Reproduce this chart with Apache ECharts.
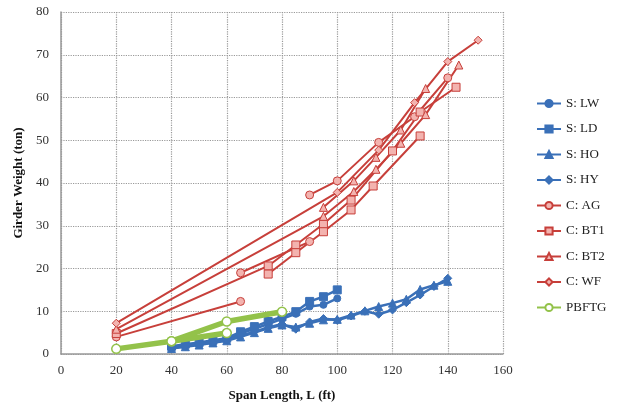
<!DOCTYPE html>
<html>
<head>
<meta charset="utf-8">
<script src="https://cdn.jsdelivr.net/npm/echarts@6/dist/echarts.min.js"></script>
<style>
html, body { margin: 0; padding: 0; background: #fff; }
#chart { width: 624px; height: 412px; }
</style>
</head>
<body>
<div id="chart"></div>
<script>
// steel girders: span (ft) and weight (ton)
var spanShort = [40, 45, 50, 55, 60, 65, 70, 75, 80, 85, 90, 95, 100];
var spanLong = [40, 45, 50, 55, 60, 65, 70, 75, 80, 85, 90, 95, 100, 105, 110, 115, 120, 125, 130, 135, 140];
var lwWeight = [1.5, 2.0, 2.4, 2.9, 3.4, 4.8, 5.9, 7.0, 8.2, 9.4, 11.1, 11.5, 13.0];
var ldWeight = [1.8, 2.3, 2.7, 3.2, 3.7, 5.2, 6.4, 7.6, 8.7, 9.9, 12.3, 13.4, 15.0];
var hoWeight = [1.3, 1.7, 2.1, 2.6, 3.1, 4.0, 5.0, 6.0, 6.8, 6.3, 7.2, 8.0, 8.1, 9.1, 10.1, 11.1, 11.9, 12.8, 15.1, 16.1, 17.0];
var hyWeight = [1.4, 1.8, 2.3, 2.7, 3.3, 4.3, 5.2, 6.2, 7.0, 5.8, 7.5, 8.3, 7.9, 8.9, 10.0, 9.3, 10.3, 12.0, 13.8, 15.8, 17.7];

// concrete girders, each broken into segments [span, weight]
var agSeg1 = [[20, 4.0], [65, 12.3]];
var agSeg2 = [[65, 19.0], [90, 26.3]];
var agSeg3 = [[90, 37.2], [100, 40.5], [115, 49.5], [128, 55.5], [140, 64.6]];
var bt1Seg1 = [[20, 4.8], [75, 20.6], [85, 25.5], [95, 30.4], [105, 36.0], [120, 47.5], [130, 56.6], [143, 62.4]];
var bt1Seg2 = [[75, 18.7], [85, 23.7], [95, 28.6], [105, 33.7], [113, 39.3], [130, 51.0]];
var bt2Seg1 = [[20, 5.8], [95, 32.2], [106, 38.0], [114, 43.2], [123, 49.3], [132, 56.0], [144, 67.6]];
var bt2Seg2 = [[95, 34.3], [106, 40.5], [114, 46.0], [123, 52.4], [132, 62.1]];
var wfSeg1 = [[20, 7.2], [100, 37.8], [115, 47.7], [128, 58.8], [140, 68.4], [151, 73.4]];

// PBFTG
var pbSeg1 = [[20, 1.2], [40, 3.0], [60, 4.9]];
var pbSeg2 = [[40, 3.0], [60, 7.6], [80, 9.9]];

var legendNames = ['S: LW', 'S: LD', 'S: HO', 'S: HY', 'C: AG', 'C: BT1', 'C: BT2', 'C: WF', 'PBFTG'];

var BLUE = '#3A70B8';
var RED = '#C73F3A';
var PINK = '#F3B3AF';
var GREEN = '#93C24A';

function zip(xs, ys) {
  return xs.map(function (x, i) { return [x, ys[i]]; });
}

function steel(name, symbol, xs, ys) {
  return {
    name: name, type: 'line', data: zip(xs, ys),
    symbol: symbol, symbolSize: symbol === 'circle' ? 7 : 8,
    lineStyle: { color: BLUE, width: 2.5 },
    itemStyle: { color: BLUE, borderColor: BLUE, borderWidth: 1 },
    z: 3
  };
}

function concrete(name, symbol, pts) {
  return {
    name: name, type: 'line', data: pts,
    symbol: symbol, symbolSize: 8,
    lineStyle: { color: RED, width: 2 },
    itemStyle: { color: PINK, borderColor: RED, borderWidth: 1 },
    z: 4
  };
}

function pbftg(pts) {
  return {
    name: 'PBFTG', type: 'line', data: pts,
    symbol: 'circle', symbolSize: 9,
    lineStyle: { color: GREEN, width: 5.5 },
    itemStyle: { color: '#fff', borderColor: GREEN, borderWidth: 1.5 },
    z: 5
  };
}

var series = [
  steel('S: LW', 'circle', spanShort, lwWeight),
  steel('S: LD', 'rect', spanShort, ldWeight),
  steel('S: HO', 'triangle', spanLong, hoWeight),
  steel('S: HY', 'diamond', spanLong, hyWeight),
  concrete('C: AG', 'circle', agSeg1),
  concrete('C: AG', 'circle', agSeg2),
  concrete('C: AG', 'circle', agSeg3),
  concrete('C: BT1', 'rect', bt1Seg1),
  concrete('C: BT1', 'rect', bt1Seg2),
  concrete('C: BT2', 'triangle', bt2Seg1),
  concrete('C: BT2', 'triangle', bt2Seg2),
  concrete('C: WF', 'diamond', wfSeg1),
  pbftg(pbSeg1),
  pbftg(pbSeg2)
];

var FONT = '"Liberation Serif", "DejaVu Serif", serif';

var chart = echarts.init(document.getElementById('chart'));
chart.setOption({
  animation: false,
  backgroundColor: '#fff',
  textStyle: { fontFamily: FONT },
  grid: { left: 61, right: 121, top: 12, bottom: 58 },
  legend: {
    data: legendNames,
    orient: 'vertical',
    left: 531,
    top: 92,
    itemWidth: 24,
    itemHeight: 9,
    itemGap: 12.5,
    textStyle: { fontFamily: FONT, fontSize: 13, color: '#222' }
  },
  xAxis: {
    type: 'value', min: 0, max: 160, interval: 20,
    name: 'Span Length, L (ft)', nameLocation: 'middle', nameGap: 35,
    nameTextStyle: { fontFamily: FONT, fontWeight: 'bold', fontSize: 13, color: '#111' },
    axisLine: { lineStyle: { color: '#999', width: 1.5 } },
    axisTick: { show: false },
    axisLabel: { color: '#333', fontSize: 13, margin: 10, fontFamily: FONT },
    splitLine: { show: true, lineStyle: { color: '#999', type: 'dotted', width: 1.2 } }
  },
  yAxis: {
    type: 'value', min: 0, max: 80, interval: 10,
    name: 'Girder Weight (ton)', nameLocation: 'middle', nameGap: 30,
    nameTextStyle: { fontFamily: FONT, fontWeight: 'bold', fontSize: 13, color: '#111' },
    axisLine: { show: true, lineStyle: { color: '#999', width: 1.5 } },
    axisTick: { show: false },
    axisLabel: { color: '#333', fontSize: 13, margin: 12, fontFamily: FONT },
    splitLine: { show: true, lineStyle: { color: '#999', type: 'dotted', width: 1.2 } }
  },
  series: series
});
</script>
</body>
</html>
